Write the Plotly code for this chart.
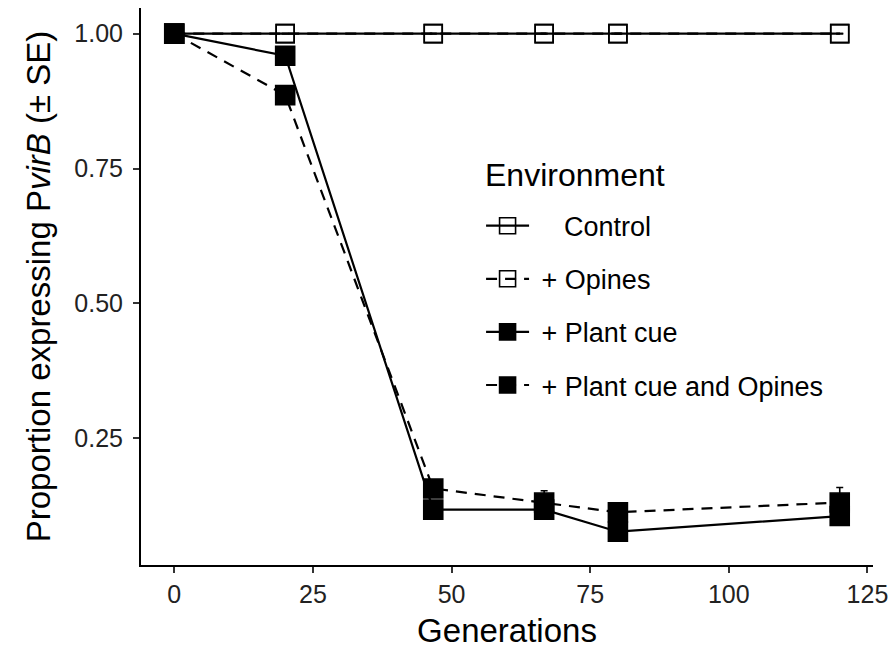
import plotly.graph_objects as go

generations = [0, 20, 46.7, 66.7, 80, 120]
control = [1.0, 1.0, 1.0, 1.0, 1.0, 1.0]
control_se = [0, 0, 0, 0, 0, 0]
opines = [1.0, 1.0, 1.0, 1.0, 1.0, 1.0]
opines_se = [0, 0, 0, 0, 0, 0]
plant_cue = [1.0, 0.959, 0.118, 0.118, 0.077, 0.106]
plant_cue_se = [0, 0.010, 0.012, 0.012, 0.012, 0.015]
plant_opines = [1.0, 0.886, 0.157, 0.131, 0.113, 0.131]
plant_opines_se = [0, 0.010, 0.010, 0.022, 0.015, 0.028]

legend_title = "Environment"
names = ["\u00a0\u00a0\u00a0\u00a0Control", "\u00a0+ Opines", "\u00a0+ Plant cue", "\u00a0+ Plant cue and Opines"]
series = [control, opines, plant_cue, plant_opines]
ses = [control_se, opines_se, plant_cue_se, plant_opines_se]
dashes = ["solid", "11px,8px", "solid", "11px,8px"]
symbols = ["square-open", "square-open", "square", "square"]
sizes = [18, 18, 19, 19]

FONT = "Liberation Sans, Arial, sans-serif"

fig = go.Figure()
for i in range(4):
    fig.add_trace(go.Scatter(
        x=generations, y=series[i], name=names[i], legendgroup=str(i),
        mode="lines+markers",
        line=dict(color="black", width=2.2, dash=dashes[i]),
        marker=dict(symbol=symbols[i], size=sizes[i], color="black",
                    line=dict(color="black", width=1.6)),
        error_y=dict(type="data", array=ses[i], visible=True, color="black",
                     thickness=1.6, width=3.5),
    ))

fig.add_annotation(
    text=legend_title, xref="paper", yref="paper",
    x=(484 - 141) / 734, y=(566 - 175) / 558, xanchor="left", yanchor="middle",
    showarrow=False, font=dict(size=32, family=FONT, color="black"),
)

fig.update_layout(
    width=896, height=651,
    margin=dict(l=141, r=21, t=8, b=85),
    paper_bgcolor="white", plot_bgcolor="white",
    font=dict(family=FONT, color="black"),
    showlegend=True,
    legend=dict(
        x=(482 - 141) / 734, y=(566 - 202) / 558, xanchor="left", yanchor="top",
        bgcolor="rgba(0,0,0,0)",
        font=dict(size=27, family=FONT),
        traceorder="grouped", tracegroupgap=15,
        itemwidth=43,
    ),
)
fig.update_xaxes(
    range=[-6, 126], tickvals=[0, 25, 50, 75, 100, 125],
    showline=True, linecolor="black", linewidth=2, mirror=False,
    ticks="outside", ticklen=6, tickwidth=1.6, tickcolor="#333333",
    tickfont=dict(size=25, color="#222222", family=FONT),
    showgrid=False, zeroline=False,
    title=dict(text="Generations", font=dict(size=33, family=FONT), standoff=12),
)
fig.update_yaxes(
    range=[0.0153, 1.0475], tickvals=[0.25, 0.5, 0.75, 1.0],
    ticktext=["0.25", "0.50", "0.75", "1.00"],
    showline=True, linecolor="black", linewidth=2, mirror=False,
    ticks="outside", ticklen=6, tickwidth=1.6, tickcolor="#333333",
    tickfont=dict(size=25, color="#222222", family=FONT),
    ticklabelstandoff=5,
    showgrid=False, zeroline=False,
    title=dict(text="Proportion expressing P<i>virB</i> (\u00b1 SE)",
               font=dict(size=33, family=FONT), standoff=14),
)

fig.write_html("out.html")
